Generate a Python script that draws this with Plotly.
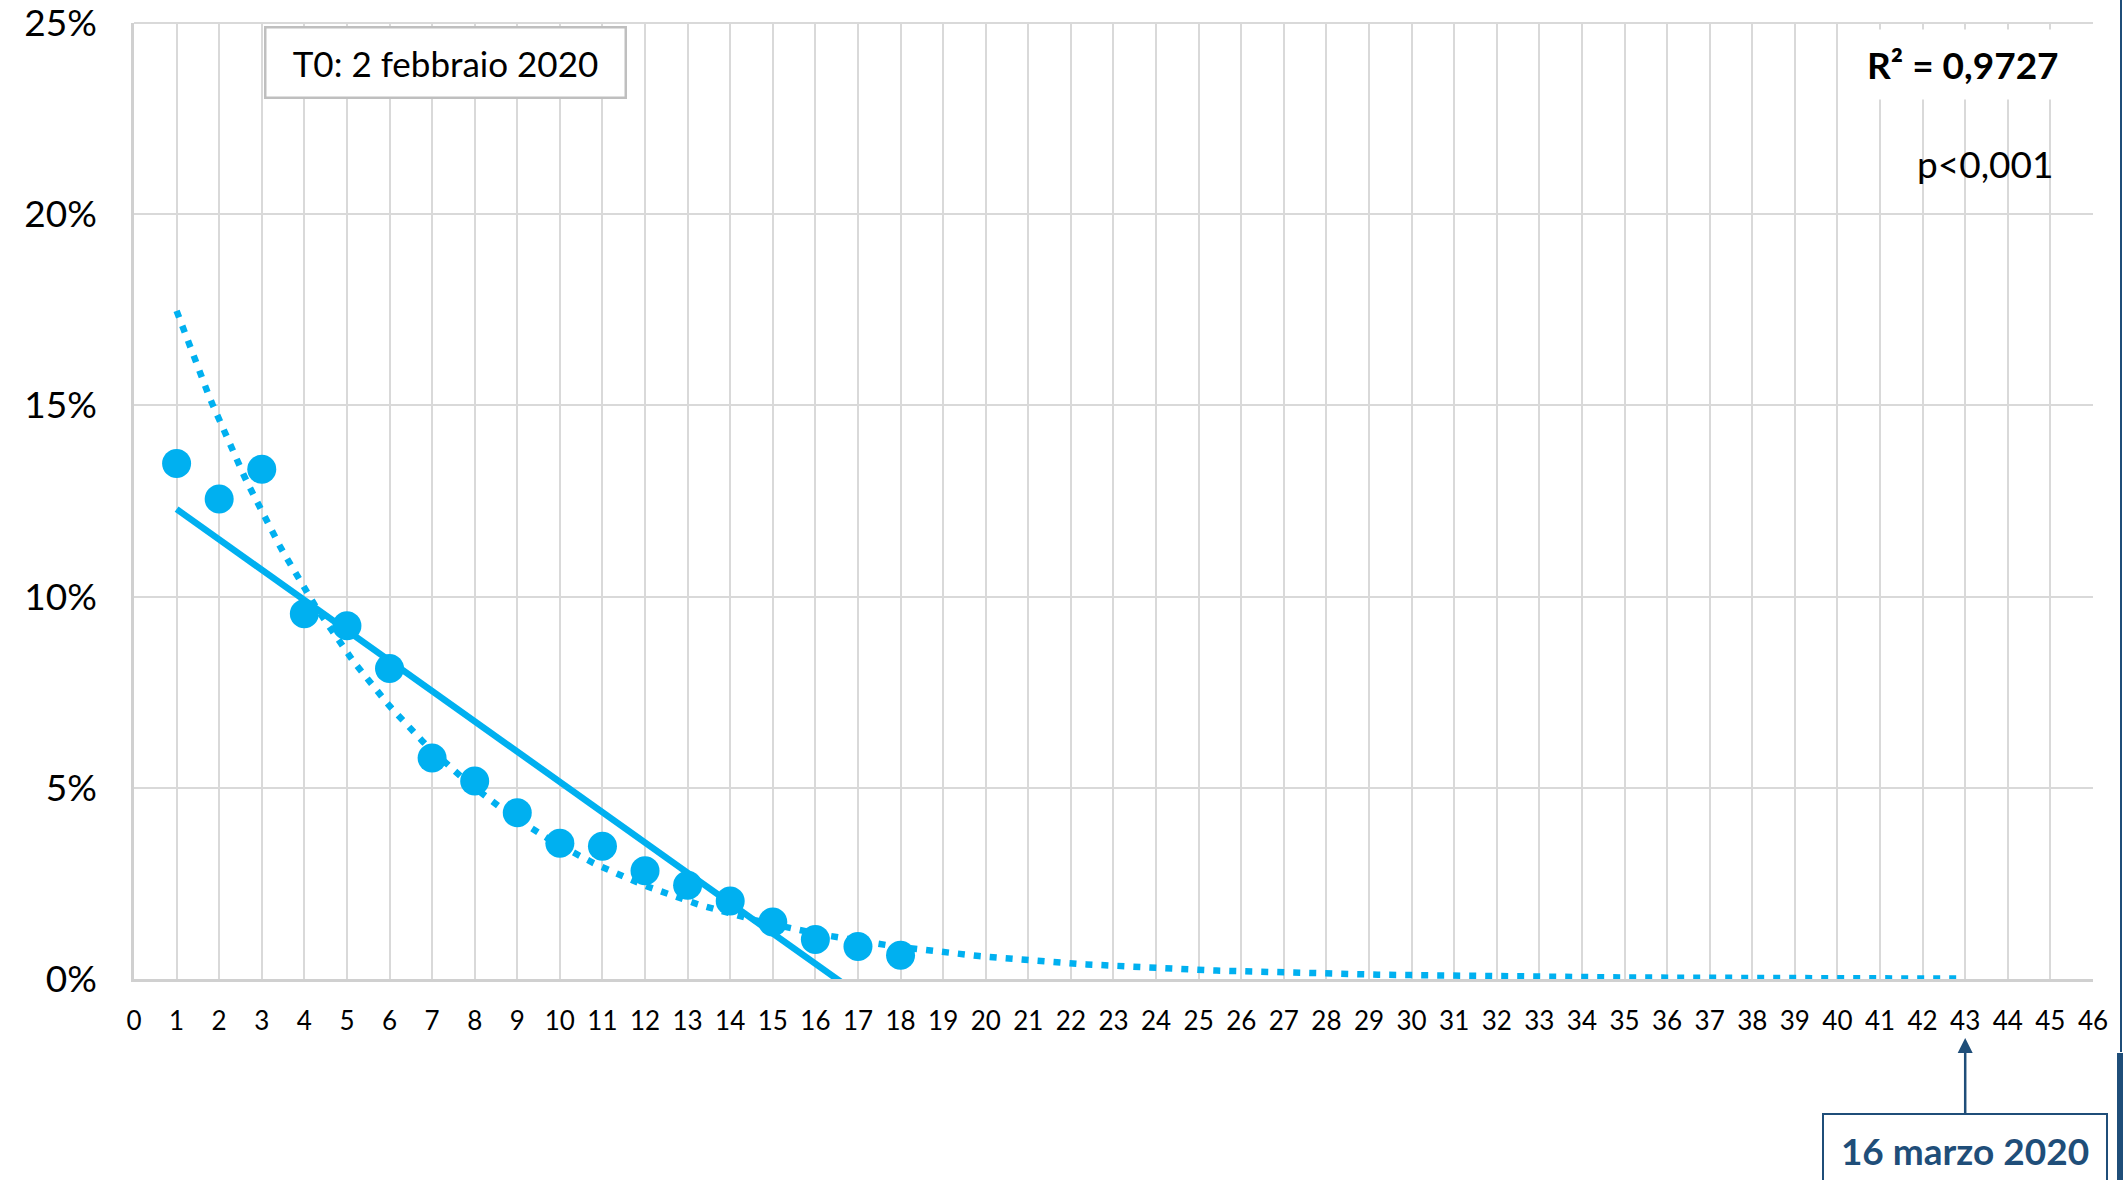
import numpy as np
import plotly.graph_objects as go

# ---- data ----
days = list(range(1, 19))
values = [13.48, 12.55, 13.33, 9.55, 9.24, 8.12, 5.78, 5.18, 4.35,
          3.55, 3.47, 2.83, 2.45, 2.04, 1.49, 1.03, 0.85, 0.62]
x_ticks = list(range(0, 47))
y_ticks = [0, 5, 10, 15, 20, 25]
y_ticktext = ["0%", "5%", "10%", "15%", "20%", "25%"]
t0_label = "T0: 2 febbraio 2020"
r2_label = "R² = 0,9727"
p_label = "p&lt;0,001"
date_label = "16 marzo 2020"
date_day = 43

BLUE = "#00B0F0"
NAVY = "#1F4E79"
GRID = "#D9D9D9"
FONT = "Lato"

W, H = 2123, 1180
L, R, T, B = 134, 30, 23, 201
PW, PH = W - L - R, H - T - B

def px_x(p):
    return (p - L) / PW

def px_y(p):
    return (H - B - p) / PH

# trendlines fitted on the data (as the spreadsheet does)
xa = np.array(days, dtype=float)
ya = np.array(values, dtype=float)
lin_a, lin_b = np.polyfit(xa, ya, 1)
exp_k, exp_c = np.polyfit(xa, np.log(ya), 1)
lin_x = np.array([1.0, 17.5])
lin_y = lin_a * lin_x + lin_b
exp_x = np.linspace(1, date_day, 400)
exp_y = np.exp(exp_c + exp_k * exp_x)

fig = go.Figure()
fig.add_trace(go.Scatter(x=exp_x, y=exp_y, mode="lines",
                         line=dict(color=BLUE, width=6.5, dash="7px,9px"),
                         hoverinfo="skip", showlegend=False))
fig.add_trace(go.Scatter(x=lin_x, y=lin_y, mode="lines",
                         line=dict(color=BLUE, width=6.5),
                         hoverinfo="skip", showlegend=False))
fig.add_trace(go.Scatter(x=days, y=values, mode="markers",
                         marker=dict(color=BLUE, size=29, line=dict(width=0)),
                         showlegend=False))

fig.update_layout(
    width=W, height=H,
    margin=dict(l=L, r=R, t=T, b=B, pad=0, autoexpand=False),
    paper_bgcolor="white", plot_bgcolor="white",
    font=dict(family=FONT, color="#000000"),
    xaxis=dict(range=[0, 46.001], tickvals=x_ticks, ticktext=[str(v) for v in x_ticks],
               showgrid=True, gridcolor=GRID, gridwidth=1.5,
               showline=True, linecolor="#D0D0D0", linewidth=2.5,
               zeroline=False, ticks="", ticklabelstandoff=17,
               tickfont=dict(family=FONT, size=26, color="#000000")),
    yaxis=dict(range=[0, 25.001], tickvals=y_ticks, ticktext=y_ticktext,
               showgrid=True, gridcolor=GRID, gridwidth=1.5,
               showline=True, linecolor="#D0D0D0", linewidth=2.5,
               zeroline=False, ticks="", ticklabelstandoff=27,
               ticklabeloverflow="allow",
               tickfont=dict(family=FONT, size=37, color="#000000")),
)

annotations = [
    dict(text=t0_label, xref="paper", yref="paper",
         x=px_x(445), y=px_y(62.5), xanchor="center", yanchor="middle",
         showarrow=False, font=dict(family=FONT, size=35, color="#000000"),
         bgcolor="white", bordercolor="#BFBFBF", borderwidth=2.5, borderpad=0,
         width=358, height=68),
    dict(text="<b>" + r2_label + "</b>", xref="paper", yref="paper",
         x=px_x(2072), y=px_y(65), xanchor="right", yanchor="middle",
         showarrow=False, font=dict(family=FONT, size=37, color="#000000"),
         bgcolor="white", borderpad=12),
    dict(text=p_label, xref="paper", yref="paper",
         x=px_x(2055), y=px_y(163), xanchor="right", yanchor="middle",
         showarrow=False, font=dict(family=FONT, size=37, color="#000000")),
    dict(text="<b>" + date_label + "</b>", xref="x", yref="paper",
         x=date_day, y=px_y(1038), ax=0, ay=112, axref="pixel", ayref="pixel",
         showarrow=True, arrowhead=2, arrowsize=1.2, arrowwidth=2.5,
         arrowcolor=NAVY, standoff=0,
         font=dict(family=FONT, size=37, color=NAVY),
         bgcolor="white", bordercolor=NAVY, borderwidth=2, borderpad=0,
         width=282, height=70),
]
fig.update_layout(annotations=annotations)

shapes = [
    # top frame line of the plot area (25% gridline)
    dict(type="line", xref="paper", yref="paper", layer="below",
         x0=0, x1=1, y0=1, y1=1, line=dict(color=GRID, width=2)),
    dict(type="line", xref="paper", yref="paper",
         x0=px_x(2121), x1=px_x(2121), y0=px_y(0), y1=px_y(1052),
         line=dict(color=NAVY, width=2)),
    dict(type="line", xref="paper", yref="paper",
         x0=px_x(2120), x1=px_x(2120), y0=px_y(1053), y1=px_y(1180),
         line=dict(color=NAVY, width=6)),
]
fig.update_layout(shapes=shapes)

fig.write_html("out.html", config={"displayModeBar": False},
               post_script="document.body.style.margin='0';document.body.style.overflow='hidden';")
